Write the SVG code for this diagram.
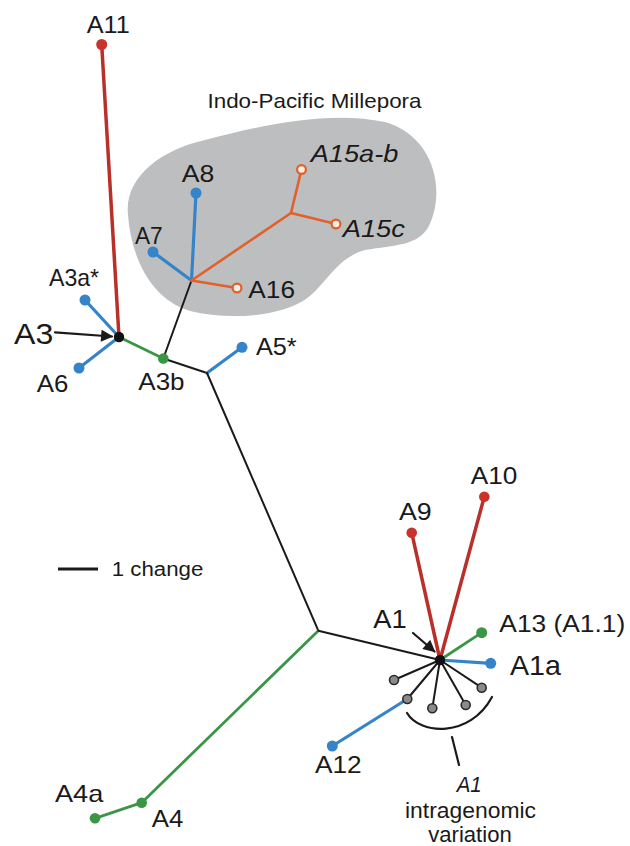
<svg xmlns="http://www.w3.org/2000/svg" width="630" height="846" viewBox="0 0 630 846">
<defs>
<style>
text{font-family:"Liberation Sans",Arial,sans-serif;fill:#1a1a1a;}
.lb{font-size:24px;}
.big{font-size:30px;}
.it{font-style:italic;}
.k{stroke:#1a1a1a;stroke-width:2;fill:none;stroke-linecap:round;}
.r{stroke:#b9302a;stroke-width:3.5;fill:none;stroke-linecap:round;}
.b{stroke:#3584c9;stroke-width:3.2;fill:none;stroke-linecap:round;}
.g{stroke:#3a9646;stroke-width:2.8;fill:none;stroke-linecap:round;}
.o{stroke:#e2602a;stroke-width:2.6;fill:none;stroke-linecap:round;}
.dr{fill:#c8332c;}
.db{fill:#3584c9;}
.dg{fill:#3a9646;}
.dk{fill:#111;}
.dgr{fill:#8a8a8a;stroke:#2a2a2a;stroke-width:1.6;}
.dop{fill:#f4efe6;stroke:#e2602a;stroke-width:2.2;}
</style>
<marker id="ah" viewBox="0 0 10 10" refX="9" refY="5" markerWidth="6" markerHeight="5.5" orient="auto" markerUnits="strokeWidth">
<path d="M0,0 L10,5 L0,10 z" fill="#1a1a1a"/>
</marker>
</defs>
<rect width="630" height="846" fill="#ffffff"/>

<g id="indo-pacific-region">
<path d="M128,215 C124,178 160,150 205,140 C262,125 330,110 385,122 C432,135 447,188 429,226 C418,246 395,245 365,250 C336,258 326,285 306,299 C282,316 230,321 190,311 C150,299 131,256 128,215 Z" fill="#bdbec0"/>
<text x="207.5" y="108" textLength="214" lengthAdjust="spacingAndGlyphs" style="font-size:21px">Indo-Pacific Millepora</text>
</g>

<g id="connectors">
<line class="r" x1="119" y1="337" x2="101.7" y2="44.5"/>
<line class="b" x1="119" y1="337" x2="85" y2="300"/>
<line class="b" x1="119" y1="337" x2="79" y2="368"/>
<line class="g" x1="119" y1="337" x2="163.3" y2="358.5"/>
<line class="k" x1="163.3" y1="358.5" x2="191.5" y2="280.5"/>
<line class="k" x1="163.3" y1="358.5" x2="207" y2="373"/>
<line class="b" x1="207" y1="373" x2="242" y2="347.3"/>
<line class="k" x1="207" y1="373" x2="318.3" y2="630.7"/>
<line class="b" x1="191.5" y1="280.5" x2="196" y2="193"/>
<line class="b" x1="191.5" y1="280.5" x2="153" y2="252"/>
<line class="o" x1="191.5" y1="280.5" x2="237" y2="288"/>
<line class="o" x1="191.5" y1="280.5" x2="291" y2="213"/>
<line class="o" x1="291" y1="213" x2="301.5" y2="169.5"/>
<line class="o" x1="291" y1="213" x2="336" y2="224"/>
<line class="g" x1="318.3" y1="630.7" x2="141.7" y2="802.7"/>
<line class="g" x1="141.7" y1="802.7" x2="95" y2="818.3"/>
<line class="k" x1="318.3" y1="630.7" x2="440" y2="660"/>
<line class="r" x1="440" y1="660" x2="411.7" y2="532.7"/>
<line class="r" x1="440" y1="660" x2="484.3" y2="496.7"/>
<line class="g" x1="440" y1="660" x2="481.7" y2="632.7"/>
<line class="b" x1="440" y1="660" x2="490.7" y2="663.3"/>
<line class="k" x1="440" y1="660" x2="394" y2="680"/>
<line class="k" x1="440" y1="660" x2="407.3" y2="699"/>
<line class="k" x1="440" y1="660" x2="432.3" y2="708.3"/>
<line class="k" x1="440" y1="660" x2="465.7" y2="705"/>
<line class="k" x1="440" y1="660" x2="481.7" y2="687.7"/>
<line class="b" x1="407.3" y1="699" x2="332.3" y2="746"/>
<line class="k" x1="55" y1="332.3" x2="112" y2="336.5" marker-end="url(#ah)" style="stroke-width:2.2"/>
<line class="k" x1="413" y1="633" x2="434.5" y2="651.5" marker-end="url(#ah)" style="stroke-width:2.2"/>
<path class="k" d="M407,713 C420,735 470,738 492,697" style="stroke-width:2.2"/>
<line class="k" x1="452" y1="737" x2="459" y2="765" style="stroke-width:2.2"/>
</g>

<g id="scale-bar">
<line x1="58" y1="569" x2="98" y2="569" stroke="#1a1a1a" stroke-width="3"/>
<text x="111.7" y="576" textLength="91.6" lengthAdjust="spacingAndGlyphs" style="font-size:20px">1 change</text>
</g>

<g id="A11"><circle class="dr" cx="101.7" cy="44.5" r="5.5"/><text class="lb" x="86.7" y="33" textLength="43" lengthAdjust="spacingAndGlyphs">A11</text></g>
<g id="A3"><circle class="dk" cx="119" cy="337" r="5.2"/><text class="big" x="14" y="344" textLength="39.3" lengthAdjust="spacingAndGlyphs">A3</text></g>
<g id="A3a"><circle class="db" cx="85" cy="300" r="5.5"/><text class="lb" x="49" y="286" textLength="50" lengthAdjust="spacingAndGlyphs">A3a*</text></g>
<g id="A6"><circle class="db" cx="79" cy="368" r="5.5"/><text class="lb" x="36.7" y="391.7" textLength="31.6" lengthAdjust="spacingAndGlyphs">A6</text></g>
<g id="A3b"><circle class="dg" cx="163.3" cy="358.5" r="5.3"/><text class="lb" x="138.3" y="390" textLength="46.3" lengthAdjust="spacingAndGlyphs">A3b</text></g>
<g id="A5"><circle class="db" cx="242" cy="347.3" r="5.5"/><text class="lb" x="256" y="355" textLength="40.7" lengthAdjust="spacingAndGlyphs">A5*</text></g>
<g id="A8"><circle class="db" cx="196" cy="193" r="5.5"/><text class="lb" x="181.7" y="181.7" textLength="32.6" lengthAdjust="spacingAndGlyphs">A8</text></g>
<g id="A7"><circle class="db" cx="153" cy="252" r="5.5"/><text class="lb" x="135" y="244" textLength="27.7" lengthAdjust="spacingAndGlyphs">A7</text></g>
<g id="A16"><circle class="dop" cx="237" cy="288" r="4.4"/><text class="lb" x="248.3" y="298.3" textLength="46.7" lengthAdjust="spacingAndGlyphs">A16</text></g>
<g id="A15ab"><circle class="dop" cx="301.5" cy="169.5" r="4.4"/><text class="lb it" x="310.7" y="161.7" textLength="87.6" lengthAdjust="spacingAndGlyphs">A15a-b</text></g>
<g id="A15c"><circle class="dop" cx="336" cy="224" r="4.4"/><text class="lb it" x="342.7" y="236.7" textLength="62.3" lengthAdjust="spacingAndGlyphs">A15c</text></g>
<g id="A4"><circle class="dg" cx="141.7" cy="802.7" r="5.3"/><text class="lb" x="151.7" y="826.7" textLength="31.6" lengthAdjust="spacingAndGlyphs">A4</text></g>
<g id="A4a"><circle class="dg" cx="95" cy="818.3" r="5.3"/><text class="lb" x="55" y="801.7" textLength="48.3" lengthAdjust="spacingAndGlyphs">A4a</text></g>
<g id="A1"><circle class="dk" cx="440" cy="660" r="5.2"/><text class="big" x="373.3" y="628.3" textLength="33.4" lengthAdjust="spacingAndGlyphs" style="font-size:25px">A1</text></g>
<g id="A9"><circle class="dr" cx="411.7" cy="532.7" r="5.3"/><text class="lb" x="399" y="520" textLength="32.7" lengthAdjust="spacingAndGlyphs">A9</text></g>
<g id="A10"><circle class="dr" cx="484.3" cy="496.7" r="5.3"/><text class="lb" x="470.7" y="484.3" textLength="46.6" lengthAdjust="spacingAndGlyphs">A10</text></g>
<g id="A13"><circle class="dg" cx="481.7" cy="632.7" r="5.5"/><text class="lb" x="499.3" y="632" textLength="126" lengthAdjust="spacingAndGlyphs" style="font-size:23px">A13 (A1.1)</text></g>
<g id="A1a"><circle class="db" cx="490.7" cy="663.3" r="5.5"/><text class="big" x="510" y="675" textLength="51" lengthAdjust="spacingAndGlyphs" style="font-size:28px">A1a</text></g>
<g id="A12"><circle class="db" cx="332.3" cy="746" r="5.5"/><text class="lb" x="315" y="773.3" textLength="46.7" lengthAdjust="spacingAndGlyphs">A12</text></g>
<g id="A1-variants">
<circle class="dgr" cx="394" cy="680" r="4.5"/>
<circle class="dgr" cx="407.3" cy="699" r="4.5"/>
<circle class="dgr" cx="432.3" cy="708.3" r="4.5"/>
<circle class="dgr" cx="465.7" cy="705" r="4.5"/>
<circle class="dgr" cx="481.7" cy="687.7" r="4.5"/>
</g>
<g id="intragenomic-label">
<text class="it" x="456.7" y="791.7" textLength="25" lengthAdjust="spacingAndGlyphs" style="font-size:22px">A1</text>
<text x="405" y="818.3" textLength="131" lengthAdjust="spacingAndGlyphs" style="font-size:22px">intragenomic</text>
<text x="428.3" y="841.7" textLength="83.4" lengthAdjust="spacingAndGlyphs" style="font-size:22px">variation</text>
</g>
</svg>
